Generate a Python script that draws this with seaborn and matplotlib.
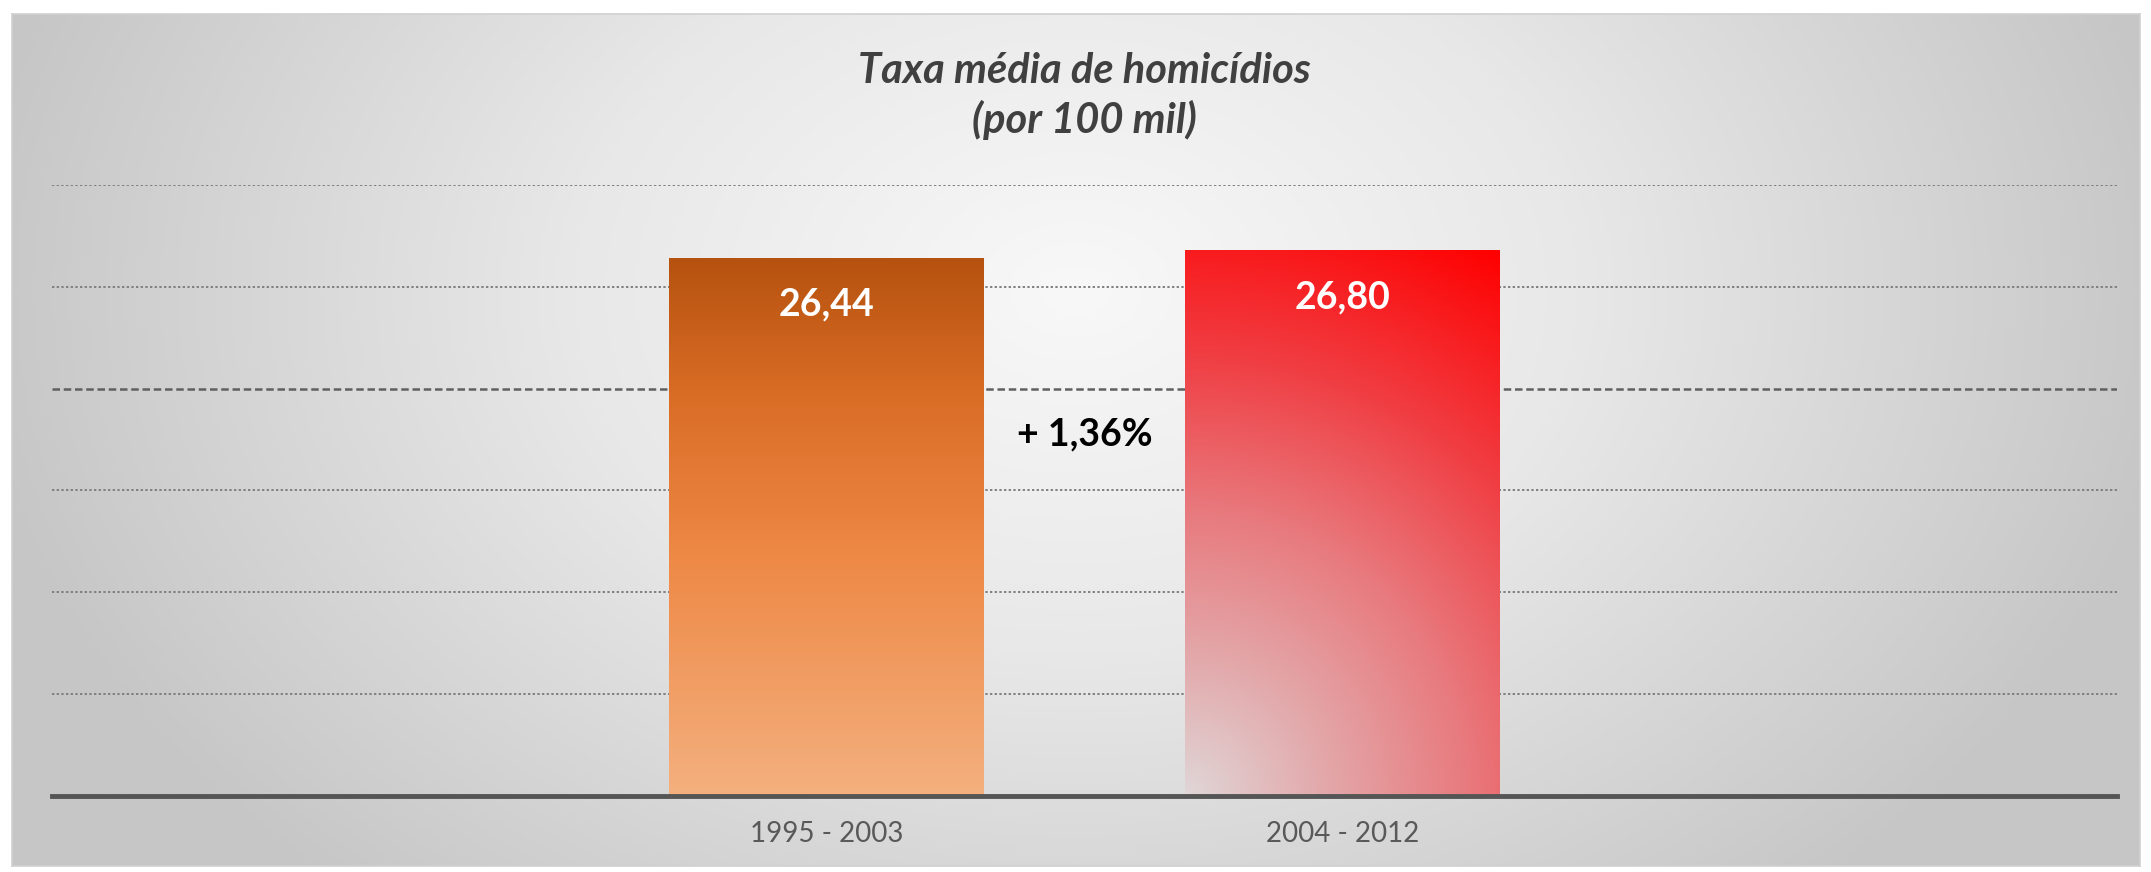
import numpy as np
import pandas as pd
import matplotlib
matplotlib.use("Agg")
import matplotlib.pyplot as plt
from matplotlib.colors import LinearSegmentedColormap
from matplotlib.transforms import blended_transform_factory
import seaborn as sns

# ---- data ----
categories = ["1995 - 2003", "2004 - 2012"]
values = [26.44, 26.80]
value_labels = ["26,44", "26,80"]
title_text = "Taxa média de homicídios\n(por 100 mil)"

sns.set_style("white")
plt.rcParams["font.family"] = ["Lato", "DejaVu Sans"]

W, H = 2151, 872
fig = plt.figure(figsize=(W / 100, H / 100), dpi=100)
fig.patch.set_facecolor("white")

# ---- background panel with radial gradient ----
px0, px1, py0, py1 = 12, 2140, 14, 866
bg = fig.add_axes([px0 / W, 1 - py1 / H, (px1 - px0) / W, (py1 - py0) / H], zorder=0)
gx = np.linspace(-1, 1, 600)
gy = np.linspace(-1, 1, 300)
GX, GY = np.meshgrid(gx, gy)
R = np.sqrt((GX / 1.05) ** 2 + ((GY - 0.35) / 1.9) ** 2)
R = np.clip(R, 0, 1)
bg_cmap = LinearSegmentedColormap.from_list(
    "bg", [(0, "#F8F8F8"), (0.45, "#E8E8E8"), (1, "#C6C6C6")])
bg.imshow(R, cmap=bg_cmap, aspect="auto", extent=[0, 1, 0, 1], vmin=0, vmax=1,
          origin="lower")
bg.set_xticks([])
bg.set_yticks([])
for s in bg.spines.values():
    s.set_color("#D0D0D0")
    s.set_linewidth(1.2)

# ---- main axes ----
ax = fig.add_axes([52 / W, 1 - 796 / H, 2065 / W, (796 - 185) / H], zorder=1)
ax.patch.set_alpha(0)

df = pd.DataFrame({"periodo": categories, "taxa": values})
sns.barplot(data=df, x="periodo", y="taxa", ax=ax, width=0.61,
            color="#ED7D31", saturation=1, zorder=3)

ax.set_xlim(-1.5, 2.5)
ax.set_ylim(0, 30)
ax.set_yticks(np.arange(0, 31, 5))
ax.set_axisbelow(True)
ax.yaxis.grid(True, linestyle=(0, (1.2, 1.2)), color="#808080", linewidth=1.4)
ax.xaxis.grid(False)
gls = ax.get_ygridlines()
gls[4].set_linestyle((0, (3, 1.5)))
gls[4].set_color("#606060")
gls[4].set_linewidth(1.8)

# gradient fills for bars
cmap1 = LinearSegmentedColormap.from_list(
    "b1", [(0, "#F4B07F"), (0.45, "#EE8845"), (0.75, "#D96C25"), (1, "#B5520F")])
cmap2 = LinearSegmentedColormap.from_list(
    "b2", [(0, "#E0D6D7"), (0.22, "#E3A8AA"), (0.45, "#E87A7E"), (0.7, "#F03E43"), (1, "#FF0000")])

fig.canvas.draw()
patches = list(ax.patches)
for i, p in enumerate(patches):
    x0, y0 = p.get_x(), p.get_y()
    w, h = p.get_width(), p.get_height()
    if i == 0:
        arr = np.linspace(0, 1, 256)[:, None] * np.ones((1, 8))
        cm = cmap1
    else:
        (ax0, ay0) = ax.transData.transform((x0, y0))
        (ax1, ay1) = ax.transData.transform((x0 + w, y0 + h))
        wp, hp = abs(ax1 - ax0), abs(ay1 - ay0)
        u = np.linspace(0, 1, 200)
        vv = np.linspace(0, 1, 300)
        U, V = np.meshgrid(u, vv)
        arr = np.sqrt((U * wp) ** 2 + (V * hp) ** 2) / np.sqrt(wp ** 2 + hp ** 2)
        cm = cmap2
    im = ax.imshow(arr, cmap=cm, vmin=0, vmax=1, origin="lower", aspect="auto",
                   extent=[x0, x0 + w, y0, y0 + h], zorder=3, interpolation="bilinear")
    im.set_clip_path(p)
    p.set_facecolor("none")
    p.set_edgecolor("none")

ax.set_xlim(-1.5, 2.5)
ax.set_ylim(0, 30)

# value labels inside bars
for i, (v, lab) in enumerate(zip(values, value_labels)):
    ax.annotate(lab, (i, v), xytext=(0, -34), textcoords="offset points",
                ha="center", va="center", color="white", fontsize=27,
                fontweight="bold", zorder=5)

# percentage change between the two periods
pct = (values[1] / values[0] - 1) * 100
pct_label = "+ " + f"{pct:.2f}".replace(".", ",") + "%"
tr = blended_transform_factory(ax.transData, ax.transAxes)
ax.text(0.5, 0.592, pct_label, transform=tr, ha="center", va="center",
        fontsize=27, fontweight="bold", color="black", zorder=5)

# axes styling
ax.set_xlabel("")
ax.set_ylabel("")
ax.tick_params(axis="y", left=False, labelleft=False)
ax.tick_params(axis="x", bottom=False, length=0, pad=18, labelsize=20, labelcolor="#595959")
for s in ["top", "left", "right"]:
    ax.spines[s].set_visible(False)
ax.spines["bottom"].set_color("#555555")
ax.spines["bottom"].set_linewidth(3.5)
ax.spines["bottom"].set_zorder(6)

# title
fig.text(1084 / W, 1 - 96 / H, title_text, ha="center", va="center",
         fontsize=30, fontweight="bold", fontstyle="italic", color="#404040",
         linespacing=1.3)

fig.savefig("out.png", dpi=100, facecolor="white")
